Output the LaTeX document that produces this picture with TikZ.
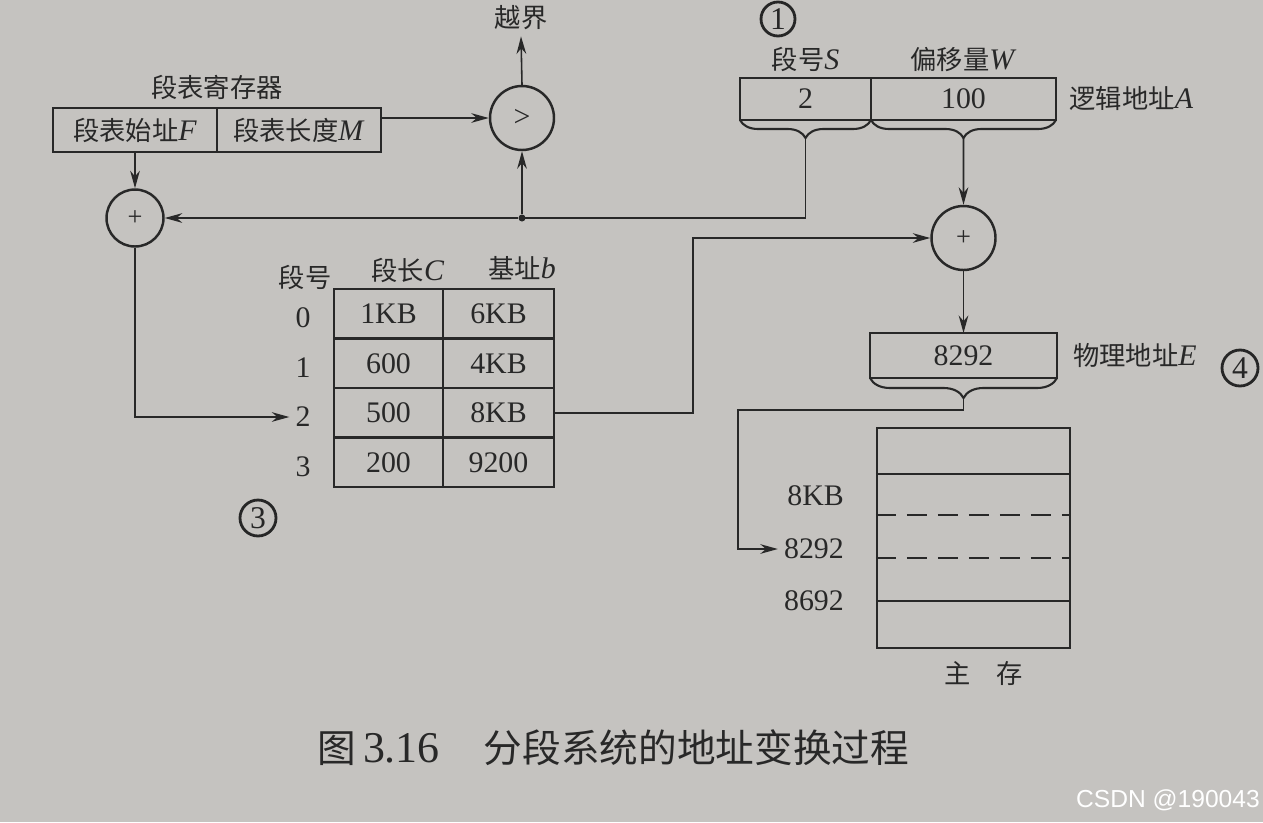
\documentclass[tikz,border=0pt]{standalone}
\usepackage{fontspec}
\setmainfont{Liberation Serif}
\newfontfamily\cjk[Scale=0.88]{Noto Sans CJK SC}
\newfontfamily\wmfont{Liberation Sans}
\newcommand{\zh}[1]{{\cjk #1}}
\usepackage{tikz}
\usetikzlibrary{arrows.meta, positioning, decorations.pathreplacing}
\definecolor{paper}{RGB}{197,195,192}
\definecolor{ink}{RGB}{40,40,40}

\begin{document}
\begin{tikzpicture}[
  x=0.02cm, y=-0.02cm, >={Stealth[length=10pt,width=5.5pt]},
  every node/.style={font=\fontsize{17}{20}\selectfont, text=ink},
  regcell/.style={
    draw=ink, line width=1.4pt, outer sep=0pt, inner sep=0pt,
    minimum height=0.88cm
  },
  tcell/.style={
    draw=ink, line width=1.4pt, outer sep=0pt, inner sep=0pt,
    minimum width=2.18cm, minimum height=0.99cm
  },
  opcircle/.style={circle, draw=ink, line width=1.4pt, inner sep=0pt},
  dotnode/.style={circle, fill=ink, inner sep=0pt, minimum size=0.14cm},
  myarrow/.style={->, line width=0.9pt, draw=ink},
  myline/.style={line width=0.9pt, draw=ink},
  bracepath/.style={decorate, line width=1.2pt, draw=ink,
    decoration={brace, mirror, amplitude=#1}},
  handmark/.style={circle, draw=black!85, line width=1.6pt, inner sep=1pt,
    text=black!85, font=\fontsize{18}{20}\selectfont},
]
\useasboundingbox (0,0) rectangle (1263,822);
\fill[paper] (0,0) rectangle (1263,822);
\clip (0,0) rectangle (1263,822);
% --- segment table register + bound check ---
\node[regcell, minimum width=3.28cm] (regF) at (135,130) {\zh{段表始址}\textit{F}};
\node[regcell, minimum width=3.28cm, right=0pt of regF] (regM) {\zh{段表长度}\textit{M}};
\node[above=1pt of regF.north east] (reglbl) {\zh{段表寄存器}};
\node[opcircle, minimum size=1.28cm] (cmp) at (522,118) {>};
\node (yue) at (521,18) {\zh{越界}};
\draw[myarrow] (regM.east |- cmp.west) -- (cmp.west);
\draw[myarrow] (cmp.north) -- (yue.south);
\node[opcircle, minimum size=1.14cm, font=\fontsize{15}{16}\selectfont] (plus1) at (135,218) {+};
\draw[myarrow] (regF.south) -- (plus1.north);
\node[dotnode] (jd) at (522,218) {};
% --- logical address ---
\node[regcell, minimum width=2.62cm, minimum height=0.84cm] (lS) at (805.5,99) {2};
\node[regcell, minimum width=3.7cm, minimum height=0.84cm, right=0pt of lS] (lW) {100};
\node[above=0pt of lS] (lSlbl) {\zh{段号}\textit{S}};
\node[above=0pt of lW] (lWlbl) {\zh{偏移量}\textit{W}};
\node[right=0.15cm of lW] (logic) {\zh{逻辑地址}\textit{A}};
\draw[bracepath=0.36cm] (lS.south west) -- (lS.south east);
\draw[bracepath=0.36cm] (lW.south west) -- (lW.south east);
\coordinate (sTip) at ([yshift=-0.36cm]lS.south);
\coordinate (wTip) at ([yshift=-0.36cm]lW.south);
\draw[myline] (sTip) |- (jd.center);
\draw[myarrow] (jd) -- (plus1);
\draw[myarrow] (jd) -- (cmp);
% --- segment table ---
\foreach \len/\base [count=\i from 0] in {1KB/6KB, 600/4KB, 500/8KB, 200/9200} {
  \node[tcell] (len\i) at (388.5,{313.75+49.5*\i}) {\len};
  \node[tcell, minimum width=2.22cm, right=0pt of len\i] (base\i) {\base};
  \node (num\i) at (303,{318+49.5*\i}) {\i};
}
\node (hnum) at (305,277) {\zh{段号}};
\node (hlen) at (408,270) {\zh{段长}\textit{C}};
\node (hbase) at (522,268) {\zh{基址}\textit{b}};
\draw[myarrow] (plus1.south) |- (num2.west);
% --- physical address ---
\node[opcircle, minimum size=1.28cm, font=\fontsize{15}{16}\selectfont] (plus2) at (963.5,238) {+};
\coordinate (jn) at (693,238);
\draw[myarrow] (base2.east) -| (jn) -- (plus2.west);
\draw[myarrow] (wTip) -- (plus2.north);
\node[regcell, minimum width=3.74cm, minimum height=0.9cm] (phys) at (963.5,355.5) {8292};
\node[right=0.2cm of phys] (physlbl) {\zh{物理地址}\textit{E}};
\draw[myarrow] (plus2.south) -- (phys.north);
\draw[bracepath=0.4cm] (phys.south west) -- (phys.south east);
\coordinate (eTip) at ([yshift=-0.4cm]phys.south);
% --- main memory ---
\node[draw=ink, line width=1.4pt, inner sep=0pt, minimum width=3.86cm, minimum height=4.4cm] (mem) at (973.5,538) {};
\draw[line width=1.1pt, draw=ink] (mem.west |- 0,474) -- (mem.east |- 0,474);
\draw[line width=1.1pt, draw=ink] (mem.west |- 0,601) -- (mem.east |- 0,601);
\draw[line width=1.1pt, draw=ink, dash pattern=on 0.4cm off 0.22cm] (mem.west |- 0,515) -- (mem.east |- 0,515);
\draw[line width=1.1pt, draw=ink, dash pattern=on 0.4cm off 0.22cm] (mem.west |- 0,558) -- (mem.east |- 0,558);
\node[anchor=east] (m8kb) at (850,496) {8KB};
\node[anchor=east] (m8292) at (850,549) {8292};
\node[anchor=east] (m8692) at (850,601) {8692};
\node[below=0.12cm of mem, xshift=0.2cm] (memlbl) {\zh{主\quad 存}};
\draw[myarrow] (eTip) |- (738,410) |- (m8292.west);
% --- caption + marks ---
\node (cap) at (613,748) {\fontsize{25}{28}\selectfont\zh{图}\,3.16\quad\zh{分段系统的地址变换过程}};
\node[handmark, minimum size=0.72cm] (mk3) at (258,518) {3};
\node[handmark, minimum size=0.68cm] (mk1) at (778,19) {1};
\node[handmark, minimum size=0.72cm] (mk4) at (1240,368) {4};
\node[text=white, font=\wmfont\fontsize{14}{16}\selectfont] (wm) at (1168,800) {CSDN @190043};
\end{tikzpicture}
\end{document}
